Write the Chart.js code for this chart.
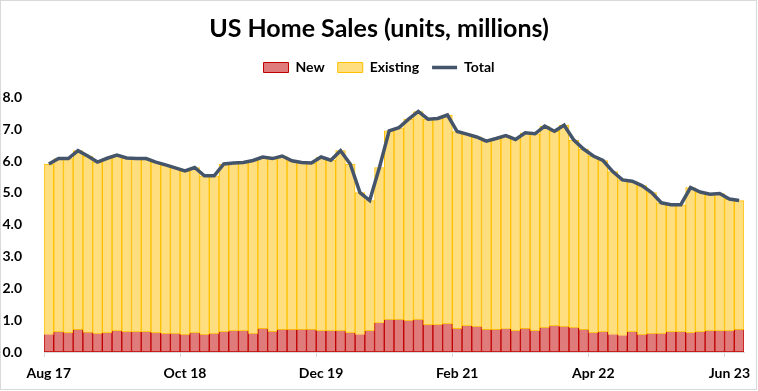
<!DOCTYPE html>
<html>
<head>
<meta charset="utf-8">
<script src="https://cdn.jsdelivr.net/npm/chart.js@4/dist/chart.umd.min.js"></script>
<style>
  html, body { margin: 0; padding: 0; background: #fff; }
  #c { display: block; }
</style>
</head>
<body>
<canvas id="c" width="758" height="391" style="width:758px;height:391px"></canvas>
<script>
const categories = [
  "Aug 17","Sep 17","Oct 17","Nov 17","Dec 17","Jan 18","Feb 18","Mar 18","Apr 18","May 18","Jun 18","Jul 18",
  "Aug 18","Sep 18","Oct 18","Nov 18","Dec 18","Jan 19","Feb 19","Mar 19","Apr 19","May 19","Jun 19","Jul 19",
  "Aug 19","Sep 19","Oct 19","Nov 19","Dec 19","Jan 20","Feb 20","Mar 20","Apr 20","May 20","Jun 20","Jul 20",
  "Aug 20","Sep 20","Oct 20","Nov 20","Dec 20","Jan 21","Feb 21","Mar 21","Apr 21","May 21","Jun 21","Jul 21",
  "Aug 21","Sep 21","Oct 21","Nov 21","Dec 21","Jan 22","Feb 22","Mar 22","Apr 22","May 22","Jun 22","Jul 22",
  "Aug 22","Sep 22","Oct 22","Nov 22","Dec 22","Jan 23","Feb 23","Mar 23","Apr 23","May 23","Jun 23","Jul 23"
];

const newSales = [
  0.55,0.63,0.60,0.70,0.61,0.57,0.60,0.66,0.63,0.63,0.63,0.60,
  0.57,0.57,0.54,0.60,0.54,0.57,0.63,0.66,0.66,0.57,0.73,0.64,
  0.70,0.70,0.70,0.70,0.66,0.66,0.66,0.60,0.55,0.66,0.91,1.01,
  1.01,0.98,1.01,0.85,0.85,0.88,0.73,0.82,0.79,0.70,0.70,0.72,
  0.66,0.73,0.66,0.76,0.82,0.79,0.76,0.70,0.60,0.63,0.55,0.52,
  0.63,0.54,0.57,0.57,0.63,0.63,0.60,0.63,0.66,0.66,0.66,0.70
];

const existingSales = [
  5.36,5.45,5.48,5.63,5.55,5.40,5.49,5.53,5.47,5.45,5.45,5.37,
  5.31,5.22,5.15,5.20,5.00,4.97,5.28,5.28,5.30,5.45,5.40,5.44,
  5.46,5.31,5.26,5.24,5.47,5.37,5.67,5.31,4.46,4.10,4.89,5.94,
  6.04,6.34,6.55,6.47,6.49,6.57,6.20,6.03,5.97,5.93,6.01,6.08,
  6.02,6.16,6.20,6.34,6.12,6.34,5.90,5.68,5.56,5.39,5.12,4.89,
  4.74,4.69,4.44,4.12,4.00,4.00,4.57,4.40,4.30,4.32,4.15,4.06
];

const totalSales = [
  5.91,6.08,6.08,6.33,6.16,5.97,6.09,6.19,6.10,6.08,6.08,5.97,
  5.88,5.79,5.69,5.80,5.54,5.54,5.91,5.94,5.96,6.02,6.13,6.08,
  6.16,6.01,5.96,5.94,6.13,6.03,6.33,5.91,5.01,4.76,5.80,6.95,
  7.05,7.32,7.56,7.32,7.34,7.45,6.93,6.85,6.76,6.63,6.71,6.80,
  6.68,6.89,6.86,7.10,6.94,7.13,6.66,6.38,6.16,6.02,5.67,5.41,
  5.37,5.23,5.01,4.69,4.63,4.63,5.17,5.03,4.96,4.98,4.81,4.76
];

const yTicks = [0, 1, 2, 3, 4, 5, 6, 7, 8];
const labelEvery = 14;

const FONT = "Lato, 'Open Sans', sans-serif";

const frame = {
  id: 'frame',
  beforeDraw(chart) {
    const ctx = chart.ctx;
    ctx.save();
    ctx.fillStyle = '#ffffff';
    ctx.fillRect(0, 0, chart.width, chart.height);
    ctx.strokeStyle = '#D9D9D9';
    ctx.lineWidth = 1;
    ctx.strokeRect(0.5, 0.5, chart.width - 2, chart.height - 2);
    ctx.restore();
  }
};

const legendSpace = {
  id: 'legendSpace',
  beforeLayout(chart) {
    const lg = chart.legend;
    if (lg && !lg._padWrapped) {
      const f = lg.fit;
      lg.fit = function () { f.call(this); this.height += 13; };
      lg._padWrapped = true;
    }
  }
};

new Chart(document.getElementById('c'), {
  type: 'bar',
  data: {
    labels: categories,
    datasets: [
      {
        label: 'New',
        data: newSales,
        backgroundColor: '#E07B7B',
        borderColor: '#C00000',
        borderWidth: 1,
        borderSkipped: 'top',
        barPercentage: 1,
        categoryPercentage: 1,
        stack: 'bars',
        order: 2
      },
      {
        label: 'Existing',
        data: existingSales,
        backgroundColor: '#FFDE7F',
        borderColor: '#FFC000',
        borderWidth: 1,
        borderSkipped: false,
        barPercentage: 1,
        categoryPercentage: 1,
        stack: 'bars',
        order: 2
      },
      {
        type: 'line',
        label: 'Total',
        data: totalSales,
        borderColor: '#44546A',
        backgroundColor: '#44546A',
        borderWidth: 3.5,
        pointRadius: 0,
        tension: 0,
        stack: 'line',
        order: 1
      }
    ]
  },
  options: {
    responsive: false,
    animation: false,
    devicePixelRatio: 1,
    layout: { padding: { left: 0, right: 0, top: 0, bottom: 0 } },
    plugins: {
      title: {
        display: true,
        text: 'US Home Sales (units, millions)',
        color: '#000000',
        font: { family: FONT, size: 25, weight: 'bold' },
        padding: { top: 13.5, bottom: 4 }
      },
      legend: {
        display: true,
        position: 'top',
        labels: {
          color: '#000000',
          font: { family: FONT, size: 14, weight: 'bold' },
          usePointStyle: true,
          pointStyleWidth: 25,
          boxHeight: 10,
          padding: 13,
          sort: (a, b) => a.datasetIndex - b.datasetIndex,
          generateLabels(chart) {
            const items = Chart.defaults.plugins.legend.labels.generateLabels(chart);
            items.forEach(it => {
              it.pointStyle = it.datasetIndex === 2 ? 'line' : 'rect';
              if (it.datasetIndex === 2) { it.lineWidth = 3.5; }
            });
            return items;
          }
        }
      },
      tooltip: { enabled: false }
    },
    scales: {
      x: {
        stacked: true,
        offset: true,
        grid: {
          display: true,
          offset: true,
          drawOnChartArea: false,
          drawTicks: true,
          tickLength: 5,
          color: ctx => (ctx.index % labelEvery === 0 ? '#D9D9D9' : 'rgba(0,0,0,0)')
        },
        border: { display: true, color: '#D9D9D9', width: 1 },
        ticks: {
          autoSkip: false,
          maxRotation: 0,
          minRotation: 0,
          padding: 8,
          color: '#000000',
          font: { family: FONT, size: 14, weight: 'bold' },
          callback: function (v, i) { return i % labelEvery === 0 ? categories[i] : ''; }
        },
        afterFit(scale) { scale.height = 39; }
      },
      y: {
        stacked: true,
        min: 0,
        max: 8,
        grid: { display: false },
        border: { display: false },
        afterBuildTicks(scale) { scale.ticks = yTicks.map(v => ({ value: v })); },
        ticks: {
          padding: 14,
          color: '#000000',
          font: { family: FONT, size: 14, weight: 'bold' },
          callback: v => Number(v).toFixed(1)
        },
        afterFit(scale) { scale.width = 44; }
      },
      yRight: {
        type: 'linear',
        position: 'right',
        display: true,
        min: 0,
        max: 8,
        grid: { display: false },
        border: { display: false },
        ticks: { display: false },
        afterFit(scale) { scale.width = 14; }
      }
    }
  },
  plugins: [frame, legendSpace]
});
</script>
</body>
</html>
